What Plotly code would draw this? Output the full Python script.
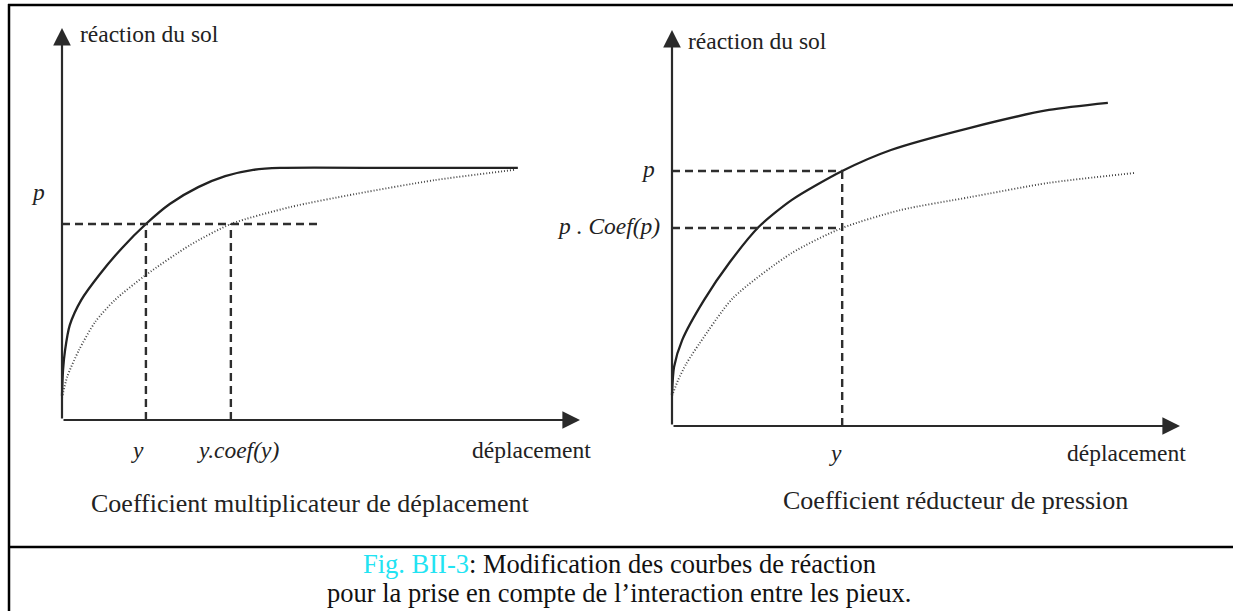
import plotly.graph_objects as go

W, H = 1233, 611

# ---- data: left panel (displacement multiplier) ----
left_solid_x = [0.0, 0.02, 0.06, 0.15, 0.37, 0.73, 1.16, 1.62, 2.08, 2.63, 3.15, 3.69, 4.21, 6.5, 8.8]
left_solid_y = [0.62, 1.28, 1.79, 2.42, 3.06, 3.72, 4.39, 5.0, 5.51, 5.94, 6.22, 6.38, 6.43, 6.43, 6.43]
left_dot_x = [0.0, 0.1, 0.33, 0.64, 1.02, 1.62, 2.47, 3.26, 4.4, 5.68, 7.2, 8.73]
left_dot_y = [0.56, 1.1, 1.79, 2.5, 3.06, 3.70, 4.46, 5.0, 5.43, 5.77, 6.12, 6.38]
left_p = 5.0
left_y = 1.62
left_ycoef = 3.26
left_dash_end = 4.94

# ---- data: right panel (pressure reducer) ----
right_solid_x = [0.0, 0.04, 0.2, 0.63, 1.14, 1.71, 2.36, 3.35, 4.31, 5.87, 7.42, 8.58]
right_solid_y = [0.78, 1.49, 2.17, 3.18, 4.14, 5.03, 5.71, 6.44, 6.97, 7.53, 7.98, 8.16]
right_dot_x = [0.0, 0.12, 0.28, 0.55, 1.2, 2.36, 3.35, 4.49, 5.87, 7.42, 9.11]
right_dot_y = [0.76, 1.16, 1.57, 2.10, 3.23, 4.37, 5.0, 5.45, 5.78, 6.14, 6.39]
right_p = 6.44
right_pcoef = 5.0
right_y = 3.35

FONT = "Liberation Serif"
INK = "#222222"

fig = go.Figure()

solid = dict(color=INK, width=2.3, shape="spline", smoothing=0.7)
dotted = dict(color="#444444", width=1.9, dash="1px,2px", shape="spline", smoothing=0.7)
dashed = dict(color="#2e2e2e", width=2.4, dash="8px,5px")


def line(xs, ys, style, xa, ya):
    fig.add_trace(go.Scatter(x=xs, y=ys, mode="lines", line=style, xaxis=xa, yaxis=ya,
                             showlegend=False, hoverinfo="skip"))


# left panel curves and construction lines
line(left_solid_x, left_solid_y, solid, "x", "y")
line(left_dot_x, left_dot_y, dotted, "x", "y")
line([0, left_dash_end], [left_p, left_p], dashed, "x", "y")
line([left_y, left_y], [0, left_p], dashed, "x", "y")
line([left_ycoef, left_ycoef], [0, left_p], dashed, "x", "y")

# right panel curves and construction lines
line(right_solid_x, right_solid_y, solid, "x2", "y2")
line(right_dot_x, right_dot_y, dotted, "x2", "y2")
line([0, right_y], [right_p, right_p], dashed, "x2", "y2")
line([0, right_y], [right_pcoef, right_pcoef], dashed, "x2", "y2")
line([right_y, right_y], [0, right_p], dashed, "x2", "y2")


def px_x(v):
    return v / W


def px_y(v):
    return 1 - v / H


def panel_axes(ox, oy, ux, uy, xr, yr):
    """Axis pair whose data origin sits at pixel (ox, oy) with ux/uy pixels per unit."""
    xa = dict(visible=False, showgrid=False, zeroline=False, fixedrange=True, range=xr,
              domain=[px_x(ox + xr[0] * ux), px_x(ox + xr[1] * ux)])
    ya = dict(visible=False, showgrid=False, zeroline=False, fixedrange=True, range=yr,
              domain=[px_y(oy - yr[0] * uy), px_y(oy - yr[1] * uy)])
    return xa, ya


YR = [-2.6, 10.5]
xa1, ya1 = panel_axes(62, 420, 51.8, 39.2, [-1.1, 10.5], YR)
xa2, ya2 = panel_axes(672, 426, 50.8, 39.6, [-1.8, 10.5], YR)

fig.update_layout(
    width=W, height=H,
    margin=dict(l=0, r=0, t=0, b=0),
    paper_bgcolor="white", plot_bgcolor="rgba(0,0,0,0)",
    xaxis=dict(anchor="y", **xa1), yaxis=dict(anchor="x", **ya1),
    xaxis2=dict(anchor="y2", **xa2), yaxis2=dict(anchor="x2", **ya2),
)

ann = []
# axis arrows
for xr, yr in (("x", "y"), ("x2", "y2")):
    for tip in ((10, 0), (0, 10)):
        ann.append(dict(x=tip[0], y=tip[1], ax=0, ay=0, xref=xr, yref=yr, axref=xr, ayref=yr,
                        text="", showarrow=True, arrowhead=2, arrowsize=1.6, arrowwidth=2.2,
                        arrowcolor="#2a2a2a", standoff=0, startstandoff=0))


def label(text, x, y, xr, yr, xanchor="center", size=23.5, italic=False):
    t = f"<i>{text}</i>" if italic else text
    ann.append(dict(text=t, x=x, y=y, xref=xr, yref=yr, showarrow=False,
                    xanchor=xanchor, yanchor="middle",
                    font=dict(family=FONT, size=size, color=INK)))


# left panel labels
label("réaction du sol", 0.3, 9.85, "x", "y", xanchor="left")
label("p", -0.47, 5.82, "x", "y", italic=True)
label("y", 1.46, -0.77, "x", "y", italic=True)
label("y.coef(y)", 3.4, -0.77, "x", "y", italic=True)
label("déplacement", 9.07, -0.76, "x", "y")
label("Coefficient multiplicateur de déplacement", 4.8, -2.12, "x", "y", size=26)

# right panel labels
label("réaction du sol", 0.27, 9.72, "x2", "y2", xanchor="left")
label("p", -0.47, 6.50, "x2", "y2", italic=True)
label("p . Coef(p)", -0.2, 5.05, "x2", "y2", xanchor="right", italic=True)
label("y", 3.22, -0.68, "x2", "y2", italic=True)
label("déplacement", 8.94, -0.68, "x2", "y2")
label("Coefficient réducteur de pression", 5.59, -1.87, "x2", "y2", size=26)

# caption
cap_font = dict(family=FONT, size=26.5, color="#111111")
ann.append(dict(text="<span style='color:#22e3f2'>Fig. BII-3</span>: Modification des courbes de réaction",
                x=px_x(619), y=px_y(564), xref="paper", yref="paper", showarrow=False,
                xanchor="center", yanchor="middle", font=cap_font))
ann.append(dict(text="pour la prise en compte de l’interaction entre les pieux.",
                x=px_x(619), y=px_y(593), xref="paper", yref="paper", showarrow=False,
                xanchor="center", yanchor="middle", font=cap_font))

fig.update_layout(annotations=ann)

# frame lines
frame = dict(type="line", xref="paper", yref="paper", line=dict(color="black", width=2.5))
fig.update_layout(shapes=[
    dict(x0=px_x(8), x1=1, y0=px_y(5), y1=px_y(5), **frame),
    dict(x0=px_x(9), x1=px_x(9), y0=px_y(4), y1=0, **frame),
    dict(x0=px_x(8), x1=1, y0=px_y(547), y1=px_y(547), **frame),
])

fig.write_html("out.html")
